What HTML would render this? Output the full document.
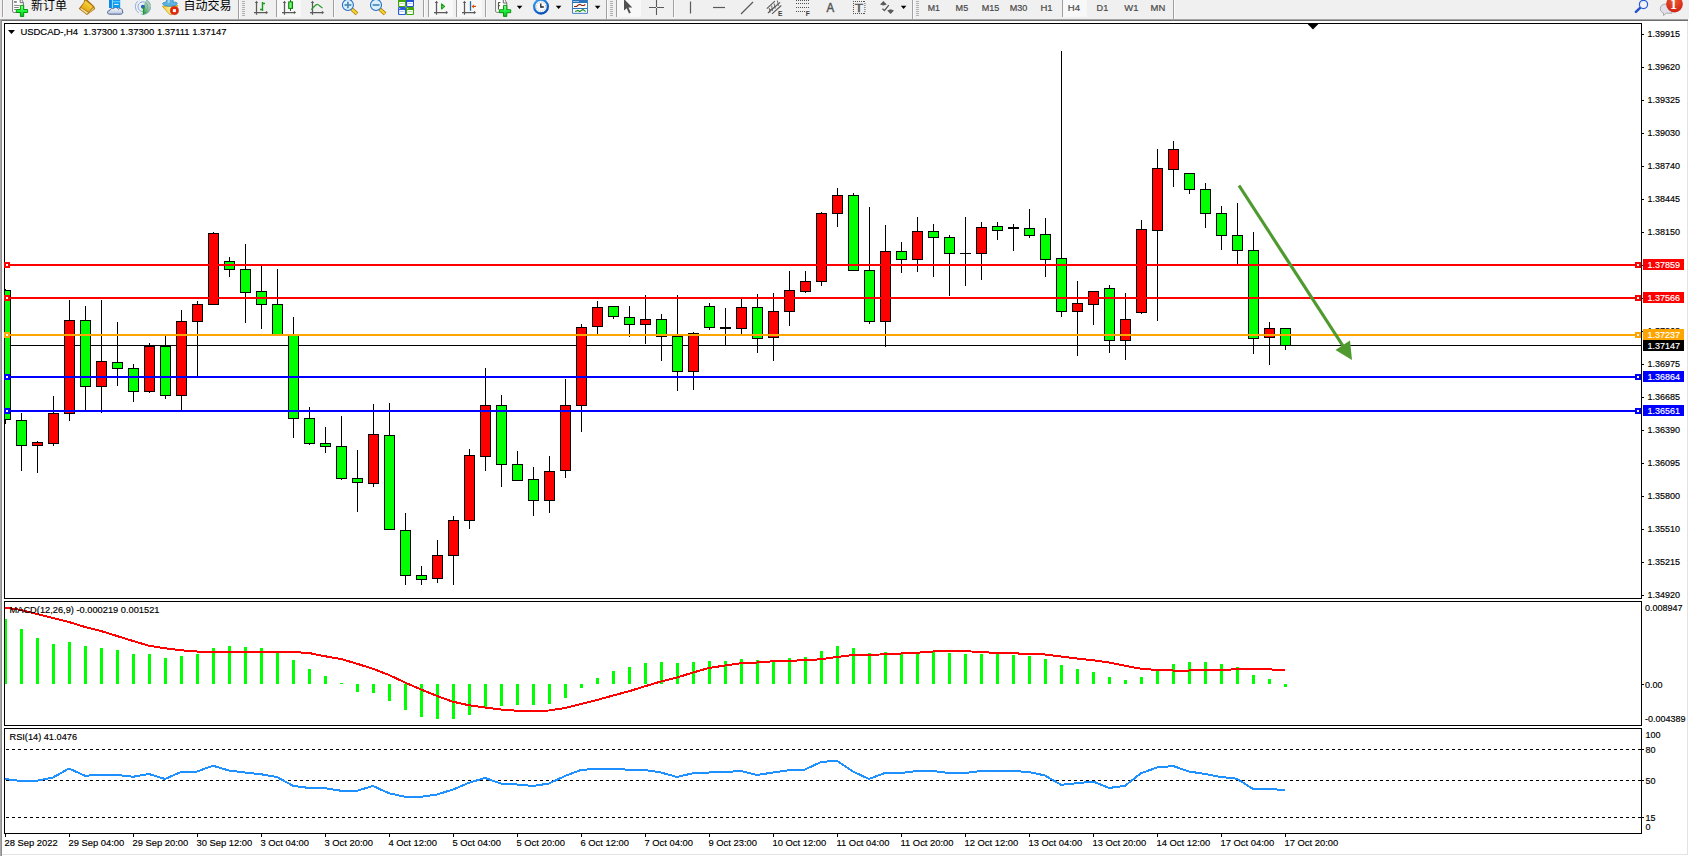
<!DOCTYPE html>
<html lang="zh"><head><meta charset="utf-8"><title>USDCAD-,H4</title>
<style>html,body{margin:0;padding:0;background:#fff;overflow:hidden}body{width:1689px;height:856px;position:relative}</style></head>
<body>
<svg width="1689" height="856" viewBox="0 0 1689 856" font-family="'Liberation Sans','Noto Sans CJK SC',sans-serif" font-size="9" style="position:absolute;left:0;top:0;display:block">
<style>text{stroke:#000;stroke-width:.16px}text.w{stroke:#fff}text.n{stroke:none}</style>
<defs><clipPath id="cm"><rect x="5" y="24" width="1636" height="574"/></clipPath><clipPath id="cd"><rect x="5" y="602" width="1636" height="123"/></clipPath><clipPath id="cr"><rect x="5" y="729" width="1636" height="104"/></clipPath><linearGradient id="gp" x1="0" y1="0" x2="0" y2="1"><stop offset="0" stop-color="#86ff92"/><stop offset="0.5" stop-color="#1cf53c"/><stop offset="1" stop-color="#00c014"/></linearGradient><linearGradient id="gb" x1="0" y1="0" x2="0" y2="1"><stop offset="0" stop-color="#8fc4f0"/><stop offset="1" stop-color="#2a6fc0"/></linearGradient><radialGradient id="gr" cx="0.5" cy="0.3" r="0.8"><stop offset="0" stop-color="#f05a30"/><stop offset="1" stop-color="#c81a10"/></radialGradient></defs>
<rect x="0" y="0" width="1689" height="856" fill="#ffffff"/>
<rect x="0" y="0" width="1689" height="19" fill="#f0f0f0"/>
<g shape-rendering="crispEdges">
<rect x="0" y="19" width="1688" height="1" fill="#a3a3a3"/>
<rect x="0" y="20" width="1688" height="1" fill="#6e6e6e"/>
<rect x="0" y="19" width="1" height="837" fill="#a8a8a8"/>
<rect x="1" y="20" width="1" height="836" fill="#8e8e8e"/>
<rect x="1687" y="21" width="1" height="834" fill="#e3e3e3"/>
<rect x="2" y="854" width="1686" height="1" fill="#e3e3e3"/>
<rect x="1688" y="0" width="1" height="856" fill="#f0f0f0"/>
<rect x="1688" y="19" width="1" height="837" fill="#ffffff"/>
<rect x="4" y="23" width="1638" height="1" fill="#000000"/>
<rect x="4" y="23" width="1" height="811" fill="#000000"/>
<rect x="1641" y="23" width="1" height="811" fill="#000000"/>
<rect x="4" y="598" width="1638" height="1" fill="#000000"/>
<rect x="4" y="601" width="1638" height="1" fill="#000000"/>
<rect x="4" y="725" width="1638" height="1" fill="#000000"/>
<rect x="4" y="728" width="1638" height="1" fill="#000000"/>
<rect x="4" y="833" width="1638" height="1" fill="#000000"/>
<rect x="2" y="599" width="1685" height="2" fill="#ffffff"/>
<rect x="2" y="726" width="1685" height="2" fill="#ffffff"/>
</g>
<g clip-path="url(#cm)" shape-rendering="crispEdges">
<rect x="5" y="345" width="1636" height="1" fill="#000000"/>
<rect x="5" y="289" width="1" height="135" fill="#000000"/>
<rect x="0" y="290" width="11" height="130" fill="#000000"/>
<rect x="1" y="291" width="9" height="128" fill="#00ff00"/>
<rect x="21" y="413" width="1" height="58" fill="#000000"/>
<rect x="16" y="420" width="11" height="26" fill="#000000"/>
<rect x="17" y="421" width="9" height="24" fill="#00ff00"/>
<rect x="37" y="441" width="1" height="32" fill="#000000"/>
<rect x="32" y="442" width="11" height="4" fill="#000000"/>
<rect x="33" y="443" width="9" height="2" fill="#ff0000"/>
<rect x="53" y="396" width="1" height="50" fill="#000000"/>
<rect x="48" y="413" width="11" height="31" fill="#000000"/>
<rect x="49" y="414" width="9" height="29" fill="#ff0000"/>
<rect x="69" y="300" width="1" height="121" fill="#000000"/>
<rect x="64" y="320" width="11" height="94" fill="#000000"/>
<rect x="65" y="321" width="9" height="92" fill="#ff0000"/>
<rect x="85" y="306" width="1" height="105" fill="#000000"/>
<rect x="80" y="320" width="11" height="67" fill="#000000"/>
<rect x="81" y="321" width="9" height="65" fill="#00ff00"/>
<rect x="101" y="300" width="1" height="113" fill="#000000"/>
<rect x="96" y="361" width="11" height="26" fill="#000000"/>
<rect x="97" y="362" width="9" height="24" fill="#ff0000"/>
<rect x="117" y="322" width="1" height="64" fill="#000000"/>
<rect x="112" y="362" width="11" height="7" fill="#000000"/>
<rect x="113" y="363" width="9" height="5" fill="#00ff00"/>
<rect x="133" y="364" width="1" height="38" fill="#000000"/>
<rect x="128" y="368" width="11" height="24" fill="#000000"/>
<rect x="129" y="369" width="9" height="22" fill="#00ff00"/>
<rect x="149" y="343" width="1" height="50" fill="#000000"/>
<rect x="144" y="346" width="11" height="46" fill="#000000"/>
<rect x="145" y="347" width="9" height="44" fill="#ff0000"/>
<rect x="165" y="336" width="1" height="63" fill="#000000"/>
<rect x="160" y="346" width="11" height="50" fill="#000000"/>
<rect x="161" y="347" width="9" height="48" fill="#00ff00"/>
<rect x="181" y="310" width="1" height="101" fill="#000000"/>
<rect x="176" y="321" width="11" height="75" fill="#000000"/>
<rect x="177" y="322" width="9" height="73" fill="#ff0000"/>
<rect x="197" y="301" width="1" height="76" fill="#000000"/>
<rect x="192" y="304" width="11" height="18" fill="#000000"/>
<rect x="193" y="305" width="9" height="16" fill="#ff0000"/>
<rect x="213" y="232" width="1" height="73" fill="#000000"/>
<rect x="208" y="233" width="11" height="72" fill="#000000"/>
<rect x="209" y="234" width="9" height="70" fill="#ff0000"/>
<rect x="229" y="257" width="1" height="20" fill="#000000"/>
<rect x="224" y="261" width="11" height="9" fill="#000000"/>
<rect x="225" y="262" width="9" height="7" fill="#00ff00"/>
<rect x="245" y="244" width="1" height="79" fill="#000000"/>
<rect x="240" y="269" width="11" height="24" fill="#000000"/>
<rect x="241" y="270" width="9" height="22" fill="#00ff00"/>
<rect x="261" y="266" width="1" height="63" fill="#000000"/>
<rect x="256" y="291" width="11" height="14" fill="#000000"/>
<rect x="257" y="292" width="9" height="12" fill="#00ff00"/>
<rect x="277" y="269" width="1" height="66" fill="#000000"/>
<rect x="272" y="304" width="11" height="31" fill="#000000"/>
<rect x="273" y="305" width="9" height="29" fill="#00ff00"/>
<rect x="293" y="317" width="1" height="121" fill="#000000"/>
<rect x="288" y="335" width="11" height="84" fill="#000000"/>
<rect x="289" y="336" width="9" height="82" fill="#00ff00"/>
<rect x="309" y="407" width="1" height="38" fill="#000000"/>
<rect x="304" y="418" width="11" height="26" fill="#000000"/>
<rect x="305" y="419" width="9" height="24" fill="#00ff00"/>
<rect x="325" y="427" width="1" height="26" fill="#000000"/>
<rect x="320" y="443" width="11" height="4" fill="#000000"/>
<rect x="321" y="444" width="9" height="2" fill="#00ff00"/>
<rect x="341" y="416" width="1" height="64" fill="#000000"/>
<rect x="336" y="446" width="11" height="33" fill="#000000"/>
<rect x="337" y="447" width="9" height="31" fill="#00ff00"/>
<rect x="357" y="450" width="1" height="62" fill="#000000"/>
<rect x="352" y="478" width="11" height="5" fill="#000000"/>
<rect x="353" y="479" width="9" height="3" fill="#00ff00"/>
<rect x="373" y="404" width="1" height="83" fill="#000000"/>
<rect x="368" y="434" width="11" height="50" fill="#000000"/>
<rect x="369" y="435" width="9" height="48" fill="#ff0000"/>
<rect x="389" y="403" width="1" height="127" fill="#000000"/>
<rect x="384" y="435" width="11" height="95" fill="#000000"/>
<rect x="385" y="436" width="9" height="93" fill="#00ff00"/>
<rect x="405" y="513" width="1" height="72" fill="#000000"/>
<rect x="400" y="530" width="11" height="46" fill="#000000"/>
<rect x="401" y="531" width="9" height="44" fill="#00ff00"/>
<rect x="421" y="566" width="1" height="19" fill="#000000"/>
<rect x="416" y="575" width="11" height="5" fill="#000000"/>
<rect x="417" y="576" width="9" height="3" fill="#00ff00"/>
<rect x="437" y="540" width="1" height="43" fill="#000000"/>
<rect x="432" y="555" width="11" height="24" fill="#000000"/>
<rect x="433" y="556" width="9" height="22" fill="#ff0000"/>
<rect x="453" y="516" width="1" height="69" fill="#000000"/>
<rect x="448" y="520" width="11" height="36" fill="#000000"/>
<rect x="449" y="521" width="9" height="34" fill="#ff0000"/>
<rect x="469" y="449" width="1" height="80" fill="#000000"/>
<rect x="464" y="455" width="11" height="66" fill="#000000"/>
<rect x="465" y="456" width="9" height="64" fill="#ff0000"/>
<rect x="485" y="368" width="1" height="103" fill="#000000"/>
<rect x="480" y="405" width="11" height="52" fill="#000000"/>
<rect x="481" y="406" width="9" height="50" fill="#ff0000"/>
<rect x="501" y="395" width="1" height="92" fill="#000000"/>
<rect x="496" y="405" width="11" height="60" fill="#000000"/>
<rect x="497" y="406" width="9" height="58" fill="#00ff00"/>
<rect x="517" y="451" width="1" height="30" fill="#000000"/>
<rect x="512" y="464" width="11" height="17" fill="#000000"/>
<rect x="513" y="465" width="9" height="15" fill="#00ff00"/>
<rect x="533" y="467" width="1" height="49" fill="#000000"/>
<rect x="528" y="479" width="11" height="22" fill="#000000"/>
<rect x="529" y="480" width="9" height="20" fill="#00ff00"/>
<rect x="549" y="456" width="1" height="57" fill="#000000"/>
<rect x="544" y="471" width="11" height="30" fill="#000000"/>
<rect x="545" y="472" width="9" height="28" fill="#ff0000"/>
<rect x="565" y="379" width="1" height="99" fill="#000000"/>
<rect x="560" y="405" width="11" height="66" fill="#000000"/>
<rect x="561" y="406" width="9" height="64" fill="#ff0000"/>
<rect x="581" y="324" width="1" height="108" fill="#000000"/>
<rect x="576" y="327" width="11" height="79" fill="#000000"/>
<rect x="577" y="328" width="9" height="77" fill="#ff0000"/>
<rect x="597" y="301" width="1" height="33" fill="#000000"/>
<rect x="592" y="307" width="11" height="20" fill="#000000"/>
<rect x="593" y="308" width="9" height="18" fill="#ff0000"/>
<rect x="613" y="306" width="1" height="13" fill="#000000"/>
<rect x="608" y="306" width="11" height="11" fill="#000000"/>
<rect x="609" y="307" width="9" height="9" fill="#00ff00"/>
<rect x="629" y="306" width="1" height="31" fill="#000000"/>
<rect x="624" y="317" width="11" height="8" fill="#000000"/>
<rect x="625" y="318" width="9" height="6" fill="#00ff00"/>
<rect x="645" y="295" width="1" height="49" fill="#000000"/>
<rect x="640" y="319" width="11" height="6" fill="#000000"/>
<rect x="641" y="320" width="9" height="4" fill="#ff0000"/>
<rect x="661" y="314" width="1" height="47" fill="#000000"/>
<rect x="656" y="319" width="11" height="18" fill="#000000"/>
<rect x="657" y="320" width="9" height="16" fill="#00ff00"/>
<rect x="677" y="295" width="1" height="96" fill="#000000"/>
<rect x="672" y="336" width="11" height="36" fill="#000000"/>
<rect x="673" y="337" width="9" height="34" fill="#00ff00"/>
<rect x="693" y="332" width="1" height="58" fill="#000000"/>
<rect x="688" y="333" width="11" height="39" fill="#000000"/>
<rect x="689" y="334" width="9" height="37" fill="#ff0000"/>
<rect x="709" y="303" width="1" height="27" fill="#000000"/>
<rect x="704" y="306" width="11" height="22" fill="#000000"/>
<rect x="705" y="307" width="9" height="20" fill="#00ff00"/>
<rect x="725" y="308" width="1" height="37" fill="#000000"/>
<rect x="720" y="327" width="11" height="2" fill="#000000"/>
<rect x="741" y="299" width="1" height="35" fill="#000000"/>
<rect x="736" y="307" width="11" height="22" fill="#000000"/>
<rect x="737" y="308" width="9" height="20" fill="#ff0000"/>
<rect x="757" y="294" width="1" height="59" fill="#000000"/>
<rect x="752" y="307" width="11" height="32" fill="#000000"/>
<rect x="753" y="308" width="9" height="30" fill="#00ff00"/>
<rect x="773" y="293" width="1" height="68" fill="#000000"/>
<rect x="768" y="311" width="11" height="27" fill="#000000"/>
<rect x="769" y="312" width="9" height="25" fill="#ff0000"/>
<rect x="789" y="271" width="1" height="55" fill="#000000"/>
<rect x="784" y="290" width="11" height="22" fill="#000000"/>
<rect x="785" y="291" width="9" height="20" fill="#ff0000"/>
<rect x="805" y="271" width="1" height="22" fill="#000000"/>
<rect x="800" y="281" width="11" height="11" fill="#000000"/>
<rect x="801" y="282" width="9" height="9" fill="#ff0000"/>
<rect x="821" y="212" width="1" height="74" fill="#000000"/>
<rect x="816" y="213" width="11" height="69" fill="#000000"/>
<rect x="817" y="214" width="9" height="67" fill="#ff0000"/>
<rect x="837" y="188" width="1" height="39" fill="#000000"/>
<rect x="832" y="195" width="11" height="19" fill="#000000"/>
<rect x="833" y="196" width="9" height="17" fill="#ff0000"/>
<rect x="853" y="193" width="1" height="78" fill="#000000"/>
<rect x="848" y="195" width="11" height="76" fill="#000000"/>
<rect x="849" y="196" width="9" height="74" fill="#00ff00"/>
<rect x="869" y="207" width="1" height="117" fill="#000000"/>
<rect x="864" y="270" width="11" height="52" fill="#000000"/>
<rect x="865" y="271" width="9" height="50" fill="#00ff00"/>
<rect x="885" y="225" width="1" height="122" fill="#000000"/>
<rect x="880" y="251" width="11" height="71" fill="#000000"/>
<rect x="881" y="252" width="9" height="69" fill="#ff0000"/>
<rect x="901" y="242" width="1" height="31" fill="#000000"/>
<rect x="896" y="251" width="11" height="9" fill="#000000"/>
<rect x="897" y="252" width="9" height="7" fill="#00ff00"/>
<rect x="917" y="217" width="1" height="55" fill="#000000"/>
<rect x="912" y="231" width="11" height="29" fill="#000000"/>
<rect x="913" y="232" width="9" height="27" fill="#ff0000"/>
<rect x="933" y="224" width="1" height="53" fill="#000000"/>
<rect x="928" y="231" width="11" height="7" fill="#000000"/>
<rect x="929" y="232" width="9" height="5" fill="#00ff00"/>
<rect x="949" y="235" width="1" height="61" fill="#000000"/>
<rect x="944" y="237" width="11" height="17" fill="#000000"/>
<rect x="945" y="238" width="9" height="15" fill="#00ff00"/>
<rect x="965" y="217" width="1" height="69" fill="#000000"/>
<rect x="960" y="253" width="11" height="1" fill="#000000"/>
<rect x="981" y="222" width="1" height="58" fill="#000000"/>
<rect x="976" y="227" width="11" height="27" fill="#000000"/>
<rect x="977" y="228" width="9" height="25" fill="#ff0000"/>
<rect x="997" y="222" width="1" height="18" fill="#000000"/>
<rect x="992" y="226" width="11" height="5" fill="#000000"/>
<rect x="993" y="227" width="9" height="3" fill="#00ff00"/>
<rect x="1013" y="224" width="1" height="27" fill="#000000"/>
<rect x="1008" y="227" width="11" height="2" fill="#000000"/>
<rect x="1029" y="209" width="1" height="29" fill="#000000"/>
<rect x="1024" y="228" width="11" height="8" fill="#000000"/>
<rect x="1025" y="229" width="9" height="6" fill="#00ff00"/>
<rect x="1045" y="218" width="1" height="59" fill="#000000"/>
<rect x="1040" y="234" width="11" height="26" fill="#000000"/>
<rect x="1041" y="235" width="9" height="24" fill="#00ff00"/>
<rect x="1061" y="51" width="1" height="266" fill="#000000"/>
<rect x="1056" y="258" width="11" height="54" fill="#000000"/>
<rect x="1057" y="259" width="9" height="52" fill="#00ff00"/>
<rect x="1077" y="281" width="1" height="75" fill="#000000"/>
<rect x="1072" y="303" width="11" height="9" fill="#000000"/>
<rect x="1073" y="304" width="9" height="7" fill="#ff0000"/>
<rect x="1093" y="291" width="1" height="34" fill="#000000"/>
<rect x="1088" y="291" width="11" height="14" fill="#000000"/>
<rect x="1089" y="292" width="9" height="12" fill="#ff0000"/>
<rect x="1109" y="285" width="1" height="68" fill="#000000"/>
<rect x="1104" y="288" width="11" height="53" fill="#000000"/>
<rect x="1105" y="289" width="9" height="51" fill="#00ff00"/>
<rect x="1125" y="293" width="1" height="67" fill="#000000"/>
<rect x="1120" y="319" width="11" height="22" fill="#000000"/>
<rect x="1121" y="320" width="9" height="20" fill="#ff0000"/>
<rect x="1141" y="220" width="1" height="94" fill="#000000"/>
<rect x="1136" y="229" width="11" height="84" fill="#000000"/>
<rect x="1137" y="230" width="9" height="82" fill="#ff0000"/>
<rect x="1157" y="149" width="1" height="172" fill="#000000"/>
<rect x="1152" y="168" width="11" height="63" fill="#000000"/>
<rect x="1153" y="169" width="9" height="61" fill="#ff0000"/>
<rect x="1173" y="141" width="1" height="46" fill="#000000"/>
<rect x="1168" y="149" width="11" height="21" fill="#000000"/>
<rect x="1169" y="150" width="9" height="19" fill="#ff0000"/>
<rect x="1189" y="173" width="1" height="21" fill="#000000"/>
<rect x="1184" y="173" width="11" height="17" fill="#000000"/>
<rect x="1185" y="174" width="9" height="15" fill="#00ff00"/>
<rect x="1205" y="183" width="1" height="45" fill="#000000"/>
<rect x="1200" y="189" width="11" height="25" fill="#000000"/>
<rect x="1201" y="190" width="9" height="23" fill="#00ff00"/>
<rect x="1221" y="206" width="1" height="44" fill="#000000"/>
<rect x="1216" y="213" width="11" height="23" fill="#000000"/>
<rect x="1217" y="214" width="9" height="21" fill="#00ff00"/>
<rect x="1237" y="203" width="1" height="61" fill="#000000"/>
<rect x="1232" y="235" width="11" height="16" fill="#000000"/>
<rect x="1233" y="236" width="9" height="14" fill="#00ff00"/>
<rect x="1253" y="232" width="1" height="122" fill="#000000"/>
<rect x="1248" y="250" width="11" height="89" fill="#000000"/>
<rect x="1249" y="251" width="9" height="87" fill="#00ff00"/>
<rect x="1269" y="322" width="1" height="43" fill="#000000"/>
<rect x="1264" y="328" width="11" height="10" fill="#000000"/>
<rect x="1265" y="329" width="9" height="8" fill="#ff0000"/>
<rect x="1285" y="328" width="1" height="22" fill="#000000"/>
<rect x="1280" y="328" width="11" height="18" fill="#000000"/>
<rect x="1281" y="329" width="9" height="16" fill="#00ff00"/>
<rect x="5" y="264" width="1636" height="2" fill="#ff0000"/>
<rect x="5" y="297" width="1636" height="2" fill="#ff0000"/>
<rect x="5" y="334" width="1636" height="2" fill="#ffa500"/>
<rect x="5" y="376" width="1636" height="2" fill="#0000ff"/>
<rect x="5" y="410" width="1636" height="2" fill="#0000ff"/>
</g>
<g shape-rendering="crispEdges">
<rect x="4" y="262" width="6" height="6" fill="#ff0000"/>
<rect x="6" y="264" width="2" height="2" fill="#ffffff"/>
<rect x="1635" y="262" width="6" height="6" fill="#ff0000"/>
<rect x="1637" y="264" width="2" height="2" fill="#ffffff"/>
<rect x="4" y="295" width="6" height="6" fill="#ff0000"/>
<rect x="6" y="297" width="2" height="2" fill="#ffffff"/>
<rect x="1635" y="295" width="6" height="6" fill="#ff0000"/>
<rect x="1637" y="297" width="2" height="2" fill="#ffffff"/>
<rect x="4" y="332" width="6" height="6" fill="#ffa500"/>
<rect x="6" y="334" width="2" height="2" fill="#ffffff"/>
<rect x="1635" y="332" width="6" height="6" fill="#ffa500"/>
<rect x="1637" y="334" width="2" height="2" fill="#ffffff"/>
<rect x="4" y="374" width="6" height="6" fill="#0000ff"/>
<rect x="6" y="376" width="2" height="2" fill="#ffffff"/>
<rect x="1635" y="374" width="6" height="6" fill="#0000ff"/>
<rect x="1637" y="376" width="2" height="2" fill="#ffffff"/>
<rect x="4" y="408" width="6" height="6" fill="#0000ff"/>
<rect x="6" y="410" width="2" height="2" fill="#ffffff"/>
<rect x="1635" y="408" width="6" height="6" fill="#0000ff"/>
<rect x="1637" y="410" width="2" height="2" fill="#ffffff"/>
</g>
<line x1="1239" y1="185.5" x2="1344" y2="347.5" stroke="#4f9a2f" stroke-width="3.2"/>
<polygon points="1352,360 1335.5,350 1350,340.5" fill="#4f9a2f"/>
<polygon points="1307.6,24 1318.4,24 1313,29.4" fill="#000"/>
<polygon points="8,30 15,30 11.5,34" fill="#000"/>
<text x="20.4" y="35" font-size="9.4" textLength="206" lengthAdjust="spacingAndGlyphs" style="white-space:pre">USDCAD-,H4  1.37300 1.37300 1.37111 1.37147</text>
<g shape-rendering="crispEdges">
<rect x="1642" y="34" width="2" height="1" fill="#000000"/>
<rect x="1642" y="67" width="2" height="1" fill="#000000"/>
<rect x="1642" y="100" width="2" height="1" fill="#000000"/>
<rect x="1642" y="133" width="2" height="1" fill="#000000"/>
<rect x="1642" y="166" width="2" height="1" fill="#000000"/>
<rect x="1642" y="199" width="2" height="1" fill="#000000"/>
<rect x="1642" y="232" width="2" height="1" fill="#000000"/>
<rect x="1642" y="265" width="2" height="1" fill="#000000"/>
<rect x="1642" y="298" width="2" height="1" fill="#000000"/>
<rect x="1642" y="331" width="2" height="1" fill="#000000"/>
<rect x="1642" y="364" width="2" height="1" fill="#000000"/>
<rect x="1642" y="397" width="2" height="1" fill="#000000"/>
<rect x="1642" y="430" width="2" height="1" fill="#000000"/>
<rect x="1642" y="463" width="2" height="1" fill="#000000"/>
<rect x="1642" y="496" width="2" height="1" fill="#000000"/>
<rect x="1642" y="529" width="2" height="1" fill="#000000"/>
<rect x="1642" y="562" width="2" height="1" fill="#000000"/>
<rect x="1642" y="595" width="2" height="1" fill="#000000"/>
</g>
<text x="1647.5" y="36.8" textLength="32.5" lengthAdjust="spacingAndGlyphs">1.39915</text>
<text x="1647.5" y="69.8" textLength="32.5" lengthAdjust="spacingAndGlyphs">1.39620</text>
<text x="1647.5" y="102.8" textLength="32.5" lengthAdjust="spacingAndGlyphs">1.39325</text>
<text x="1647.5" y="135.8" textLength="32.5" lengthAdjust="spacingAndGlyphs">1.39030</text>
<text x="1647.5" y="168.8" textLength="32.5" lengthAdjust="spacingAndGlyphs">1.38740</text>
<text x="1647.5" y="201.8" textLength="32.5" lengthAdjust="spacingAndGlyphs">1.38445</text>
<text x="1647.5" y="234.8" textLength="32.5" lengthAdjust="spacingAndGlyphs">1.38150</text>
<text x="1647.5" y="267.8" textLength="32.5" lengthAdjust="spacingAndGlyphs">1.37859</text>
<text x="1647.5" y="300.8" textLength="32.5" lengthAdjust="spacingAndGlyphs">1.37566</text>
<text x="1647.5" y="333.8" textLength="32.5" lengthAdjust="spacingAndGlyphs">1.37262</text>
<text x="1647.5" y="366.8" textLength="32.5" lengthAdjust="spacingAndGlyphs">1.36975</text>
<text x="1647.5" y="399.8" textLength="32.5" lengthAdjust="spacingAndGlyphs">1.36685</text>
<text x="1647.5" y="432.8" textLength="32.5" lengthAdjust="spacingAndGlyphs">1.36390</text>
<text x="1647.5" y="465.8" textLength="32.5" lengthAdjust="spacingAndGlyphs">1.36095</text>
<text x="1647.5" y="498.8" textLength="32.5" lengthAdjust="spacingAndGlyphs">1.35800</text>
<text x="1647.5" y="531.8" textLength="32.5" lengthAdjust="spacingAndGlyphs">1.35510</text>
<text x="1647.5" y="564.8" textLength="32.5" lengthAdjust="spacingAndGlyphs">1.35215</text>
<text x="1647.5" y="597.8" textLength="32.5" lengthAdjust="spacingAndGlyphs">1.34920</text>
<g shape-rendering="crispEdges">
<rect x="1643" y="259" width="41" height="11" fill="#ff0000"/>
<rect x="1643" y="292" width="41" height="11" fill="#ff0000"/>
<rect x="1643" y="329" width="41" height="11" fill="#ffa500"/>
<rect x="1643" y="371" width="41" height="11" fill="#0000ff"/>
<rect x="1643" y="405" width="41" height="11" fill="#0000ff"/>
<rect x="1643" y="340" width="41" height="11" fill="#000000"/>
</g>
<text x="1647.5" y="268" fill="#fff" class="w" textLength="32.5" lengthAdjust="spacingAndGlyphs">1.37859</text>
<text x="1647.5" y="301" fill="#fff" class="w" textLength="32.5" lengthAdjust="spacingAndGlyphs">1.37566</text>
<text x="1647.5" y="338" fill="#fff" class="w" textLength="32.5" lengthAdjust="spacingAndGlyphs">1.37237</text>
<text x="1647.5" y="380" fill="#fff" class="w" textLength="32.5" lengthAdjust="spacingAndGlyphs">1.36864</text>
<text x="1647.5" y="414" fill="#fff" class="w" textLength="32.5" lengthAdjust="spacingAndGlyphs">1.36561</text>
<text x="1647.5" y="349" fill="#fff" class="w" textLength="32.5" lengthAdjust="spacingAndGlyphs">1.37147</text>
<g clip-path="url(#cd)" shape-rendering="crispEdges">
<rect x="4" y="619" width="3" height="65" fill="#00ff00"/>
<rect x="20" y="629" width="3" height="55" fill="#00ff00"/>
<rect x="36" y="638" width="3" height="46" fill="#00ff00"/>
<rect x="52" y="644" width="3" height="40" fill="#00ff00"/>
<rect x="68" y="642" width="3" height="42" fill="#00ff00"/>
<rect x="84" y="646" width="3" height="38" fill="#00ff00"/>
<rect x="100" y="648" width="3" height="36" fill="#00ff00"/>
<rect x="116" y="650" width="3" height="34" fill="#00ff00"/>
<rect x="132" y="654" width="3" height="30" fill="#00ff00"/>
<rect x="148" y="654" width="3" height="30" fill="#00ff00"/>
<rect x="164" y="658" width="3" height="26" fill="#00ff00"/>
<rect x="180" y="656" width="3" height="28" fill="#00ff00"/>
<rect x="196" y="654" width="3" height="30" fill="#00ff00"/>
<rect x="212" y="648" width="3" height="36" fill="#00ff00"/>
<rect x="228" y="646" width="3" height="38" fill="#00ff00"/>
<rect x="244" y="647" width="3" height="37" fill="#00ff00"/>
<rect x="260" y="648" width="3" height="36" fill="#00ff00"/>
<rect x="276" y="653" width="3" height="31" fill="#00ff00"/>
<rect x="292" y="660" width="3" height="24" fill="#00ff00"/>
<rect x="308" y="669" width="3" height="15" fill="#00ff00"/>
<rect x="324" y="676" width="3" height="8" fill="#00ff00"/>
<rect x="340" y="683" width="3" height="1" fill="#00ff00"/>
<rect x="356" y="684" width="3" height="8" fill="#00ff00"/>
<rect x="372" y="684" width="3" height="9" fill="#00ff00"/>
<rect x="388" y="684" width="3" height="17" fill="#00ff00"/>
<rect x="404" y="684" width="3" height="26" fill="#00ff00"/>
<rect x="420" y="684" width="3" height="33" fill="#00ff00"/>
<rect x="436" y="684" width="3" height="35" fill="#00ff00"/>
<rect x="452" y="684" width="3" height="35" fill="#00ff00"/>
<rect x="468" y="684" width="3" height="31" fill="#00ff00"/>
<rect x="484" y="684" width="3" height="23" fill="#00ff00"/>
<rect x="500" y="684" width="3" height="22" fill="#00ff00"/>
<rect x="516" y="684" width="3" height="21" fill="#00ff00"/>
<rect x="532" y="684" width="3" height="21" fill="#00ff00"/>
<rect x="548" y="684" width="3" height="20" fill="#00ff00"/>
<rect x="564" y="684" width="3" height="14" fill="#00ff00"/>
<rect x="580" y="684" width="3" height="4" fill="#00ff00"/>
<rect x="596" y="678" width="3" height="6" fill="#00ff00"/>
<rect x="612" y="671" width="3" height="13" fill="#00ff00"/>
<rect x="628" y="667" width="3" height="17" fill="#00ff00"/>
<rect x="644" y="663" width="3" height="21" fill="#00ff00"/>
<rect x="660" y="662" width="3" height="22" fill="#00ff00"/>
<rect x="676" y="663" width="3" height="21" fill="#00ff00"/>
<rect x="692" y="662" width="3" height="22" fill="#00ff00"/>
<rect x="708" y="661" width="3" height="23" fill="#00ff00"/>
<rect x="724" y="661" width="3" height="23" fill="#00ff00"/>
<rect x="740" y="659" width="3" height="25" fill="#00ff00"/>
<rect x="756" y="660" width="3" height="24" fill="#00ff00"/>
<rect x="772" y="660" width="3" height="24" fill="#00ff00"/>
<rect x="788" y="658" width="3" height="26" fill="#00ff00"/>
<rect x="804" y="657" width="3" height="27" fill="#00ff00"/>
<rect x="820" y="651" width="3" height="33" fill="#00ff00"/>
<rect x="836" y="646" width="3" height="38" fill="#00ff00"/>
<rect x="852" y="648" width="3" height="36" fill="#00ff00"/>
<rect x="868" y="653" width="3" height="31" fill="#00ff00"/>
<rect x="884" y="652" width="3" height="32" fill="#00ff00"/>
<rect x="900" y="654" width="3" height="30" fill="#00ff00"/>
<rect x="916" y="653" width="3" height="31" fill="#00ff00"/>
<rect x="932" y="652" width="3" height="32" fill="#00ff00"/>
<rect x="948" y="653" width="3" height="31" fill="#00ff00"/>
<rect x="964" y="654" width="3" height="30" fill="#00ff00"/>
<rect x="980" y="654" width="3" height="30" fill="#00ff00"/>
<rect x="996" y="653" width="3" height="31" fill="#00ff00"/>
<rect x="1012" y="655" width="3" height="29" fill="#00ff00"/>
<rect x="1028" y="656" width="3" height="28" fill="#00ff00"/>
<rect x="1044" y="659" width="3" height="25" fill="#00ff00"/>
<rect x="1060" y="665" width="3" height="19" fill="#00ff00"/>
<rect x="1076" y="669" width="3" height="15" fill="#00ff00"/>
<rect x="1092" y="672" width="3" height="12" fill="#00ff00"/>
<rect x="1108" y="677" width="3" height="7" fill="#00ff00"/>
<rect x="1124" y="680" width="3" height="4" fill="#00ff00"/>
<rect x="1140" y="677" width="3" height="7" fill="#00ff00"/>
<rect x="1156" y="670" width="3" height="14" fill="#00ff00"/>
<rect x="1172" y="664" width="3" height="20" fill="#00ff00"/>
<rect x="1188" y="662" width="3" height="22" fill="#00ff00"/>
<rect x="1204" y="662" width="3" height="22" fill="#00ff00"/>
<rect x="1220" y="664" width="3" height="20" fill="#00ff00"/>
<rect x="1236" y="667" width="3" height="17" fill="#00ff00"/>
<rect x="1252" y="675" width="3" height="9" fill="#00ff00"/>
<rect x="1268" y="679" width="3" height="5" fill="#00ff00"/>
<rect x="1284" y="684" width="3" height="3" fill="#00ff00"/>
<polyline points="5,607.5 21,610 37,614 53,618 69,622 85,627 101,631 117,636 133,641 149,645.75 165,648.25 181,650.25 197,651.5 213,652 229,652 245,652 261,652 277,652 293,652 309,653 325,656.25 341,659 357,663.75 373,668.75 389,675 405,682.5 421,689.5 437,696 453,701.75 469,705.25 485,707.5 501,709.5 517,710.75 533,710.75 549,710.5 565,708 581,704 597,700 613,695.5 629,691.25 645,686.25 661,681.5 677,677.5 693,672.5 709,668 725,665.5 741,663.25 757,662.5 773,661.25 789,660.75 805,660.25 821,659.25 837,657 853,655 869,655 885,654.25 901,653.5 917,652.75 933,651.5 949,650.75 965,651 981,652.25 997,652.75 1013,653.25 1029,654 1045,654.5 1061,656.5 1077,658.5 1093,660.25 1109,662.5 1125,665.75 1141,668.75 1157,670 1173,670.5 1189,670.5 1205,670.25 1221,670 1237,669.2 1253,669.2 1269,669.4 1285,670" fill="none" stroke="#ff0000" stroke-width="2" stroke-linejoin="round"/>
</g>
<text x="9.5" y="612.5" textLength="150" lengthAdjust="spacingAndGlyphs">MACD(12,26,9) -0.000219 0.001521</text>
<g shape-rendering="crispEdges">
<rect x="1642" y="684" width="2" height="1" fill="#000000"/>
</g>
<text x="1645" y="611">0.008947</text>
<text x="1645" y="688">0.00</text>
<text x="1645" y="722">-0.004389</text>
<g clip-path="url(#cr)" shape-rendering="crispEdges">
<line x1="6" y1="749.5" x2="1641" y2="749.5" stroke="#000000" stroke-width="1" stroke-dasharray="3 3"/>
<line x1="6" y1="780.5" x2="1641" y2="780.5" stroke="#000000" stroke-width="1" stroke-dasharray="3 3"/>
<line x1="6" y1="817.5" x2="1641" y2="817.5" stroke="#000000" stroke-width="1" stroke-dasharray="3 3"/>
<polyline points="5,779 21,781 37,780.75 53,777.5 69,768.5 85,775.75 101,774.75 117,775 133,776.75 149,774 165,779 181,772 197,771.5 213,765.75 229,770.5 245,772.5 261,774.25 277,777 293,785.75 309,788 325,788.25 341,790.75 357,790.75 373,786 389,793.25 405,796.75 421,796.75 437,794.5 453,789.5 469,782.75 485,778 501,783.5 517,784.5 533,786 549,783.5 565,776 581,770 597,768.75 613,768.75 629,769.75 645,770 661,772.5 677,777 693,773.25 709,772.5 725,772 741,771 757,775 773,772.5 789,770.25 805,769.5 821,762 837,760.75 853,771.5 869,779 885,773 901,773 917,771 933,771 949,773 965,773 981,771 997,770.75 1013,771 1029,772 1045,775.5 1061,784.75 1077,783.25 1093,781.5 1109,788 1125,785.75 1141,773.25 1157,767.5 1173,766 1189,771.5 1205,774 1221,777 1237,778.75 1253,789 1269,789 1285,790" fill="none" stroke="#1e90ff" stroke-width="2" stroke-linejoin="round"/>
</g>
<text x="9.5" y="740" textLength="67.5" lengthAdjust="spacingAndGlyphs">RSI(14) 41.0476</text>
<g shape-rendering="crispEdges">
<rect x="1642" y="749" width="2" height="1" fill="#000000"/>
<rect x="1642" y="780" width="2" height="1" fill="#000000"/>
<rect x="1642" y="817" width="2" height="1" fill="#000000"/>
</g>
<text x="1645.5" y="737.5">100</text>
<text x="1645.5" y="752.5">80</text>
<text x="1645.5" y="784">50</text>
<text x="1645.5" y="821">15</text>
<text x="1645.5" y="829.5">0</text>
<g shape-rendering="crispEdges">
<rect x="5" y="834" width="1" height="3" fill="#000000"/>
<rect x="69" y="834" width="1" height="3" fill="#000000"/>
<rect x="133" y="834" width="1" height="3" fill="#000000"/>
<rect x="197" y="834" width="1" height="3" fill="#000000"/>
<rect x="261" y="834" width="1" height="3" fill="#000000"/>
<rect x="325" y="834" width="1" height="3" fill="#000000"/>
<rect x="389" y="834" width="1" height="3" fill="#000000"/>
<rect x="453" y="834" width="1" height="3" fill="#000000"/>
<rect x="517" y="834" width="1" height="3" fill="#000000"/>
<rect x="581" y="834" width="1" height="3" fill="#000000"/>
<rect x="645" y="834" width="1" height="3" fill="#000000"/>
<rect x="709" y="834" width="1" height="3" fill="#000000"/>
<rect x="773" y="834" width="1" height="3" fill="#000000"/>
<rect x="837" y="834" width="1" height="3" fill="#000000"/>
<rect x="901" y="834" width="1" height="3" fill="#000000"/>
<rect x="965" y="834" width="1" height="3" fill="#000000"/>
<rect x="1029" y="834" width="1" height="3" fill="#000000"/>
<rect x="1093" y="834" width="1" height="3" fill="#000000"/>
<rect x="1157" y="834" width="1" height="3" fill="#000000"/>
<rect x="1221" y="834" width="1" height="3" fill="#000000"/>
<rect x="1285" y="834" width="1" height="3" fill="#000000"/>
</g>
<text x="4.5" y="846" font-size="9.4">28 Sep 2022</text>
<text x="68.5" y="846" font-size="9.4">29 Sep 04:00</text>
<text x="132.5" y="846" font-size="9.4">29 Sep 20:00</text>
<text x="196.5" y="846" font-size="9.4">30 Sep 12:00</text>
<text x="260.5" y="846" font-size="9.4">3 Oct 04:00</text>
<text x="324.5" y="846" font-size="9.4">3 Oct 20:00</text>
<text x="388.5" y="846" font-size="9.4">4 Oct 12:00</text>
<text x="452.5" y="846" font-size="9.4">5 Oct 04:00</text>
<text x="516.5" y="846" font-size="9.4">5 Oct 20:00</text>
<text x="580.5" y="846" font-size="9.4">6 Oct 12:00</text>
<text x="644.5" y="846" font-size="9.4">7 Oct 04:00</text>
<text x="708.5" y="846" font-size="9.4">9 Oct 23:00</text>
<text x="772.5" y="846" font-size="9.4">10 Oct 12:00</text>
<text x="836.5" y="846" font-size="9.4">11 Oct 04:00</text>
<text x="900.5" y="846" font-size="9.4">11 Oct 20:00</text>
<text x="964.5" y="846" font-size="9.4">12 Oct 12:00</text>
<text x="1028.5" y="846" font-size="9.4">13 Oct 04:00</text>
<text x="1092.5" y="846" font-size="9.4">13 Oct 20:00</text>
<text x="1156.5" y="846" font-size="9.4">14 Oct 12:00</text>
<text x="1220.5" y="846" font-size="9.4">17 Oct 04:00</text>
<text x="1284.5" y="846" font-size="9.4">17 Oct 20:00</text>
<g id="toolbar">
<rect x="2" y="0" width="1" height="17" fill="#a0a0a0" shape-rendering="crispEdges"/>
<rect x="3" y="0" width="1" height="17" fill="#fafafa" shape-rendering="crispEdges"/>
<path d="M12.6,-3 H20.2 L23.4,2.7 V12.4 H13.8 Q12.6,12.4 12.6,11.2 Z" fill="#fff" stroke="#7a7a7a" stroke-width="1"/>
<path d="M20.2,-3 V2.7 H23.4" fill="none" stroke="#6a6a6a" stroke-width="1"/>
<rect x="14.1" y="1.2" width="2.7" height="1.5" fill="#666"/>
<path d="M14.1,5.4 H19.8 M14.1,7.5 H18.8 M14.1,9.5 H16" stroke="#777" stroke-width="0.9"/>
<path d="M20.4,5.4 H23.7 V9.5 H27.6 V12.5 H23.7 V16.5 H20.4 V12.5 H16.3 V9.5 H20.4 Z" fill="url(#gp)" stroke="#008c00" stroke-width="0.9"/>
<text class="n" x="31" y="9.5" font-size="12">新订单</text>
<path d="M84.7,-1.5 L86,-1.5 L94.2,6.3 L95.2,9 L87,15 L78.7,8.8 L83.6,2.5 Z" fill="#ab7110"/>
<linearGradient id="gg" x1="1" y1="0" x2="0.2" y2="1"><stop offset="0" stop-color="#fff8a8"/><stop offset="0.45" stop-color="#f2c62c"/><stop offset="1" stop-color="#dc9f14"/></linearGradient>
<path d="M85.4,0.6 L93,6.7 L88.6,11.8 L81.2,7.4 Z" fill="url(#gg)"/>
<path d="M80,8.7 L81.2,7.9 L88.2,12.4 L86.9,13.9 Z" fill="#f5dc92"/>
<path d="M93.4,7.4 L94.3,9 L88,13.7 L89.2,12.3 Z" fill="#dcc678"/>
<path d="M109,-2 H120.2 V8 H109 Z" fill="#0d9cf4"/>
<path d="M109,-2 H112 V8 H109 Z" fill="#0a8ae8"/>
<path d="M112.4,-2 V8" stroke="#d8f0ff" stroke-width="0.8"/>
<path d="M112.9,1.3 H120.2 V2.2 H112.9 Z" fill="#7fd4ff"/>
<path d="M114.2,3.9 H118.6 V4.9 H114.2 Z" fill="#f4fbff"/>
<linearGradient id="gc" x1="0" y1="0" x2="0" y2="1"><stop offset="0" stop-color="#ffffff"/><stop offset="1" stop-color="#b4c2da"/></linearGradient>
<path d="M109.6,14.2 C106.9,14.2 106.6,10.7 109.9,10.3 C110.1,8.5 112.5,8.2 113.4,8.8 C114.4,7 117.3,7 118.3,9.3 C119.6,7.8 122.7,8.5 122.4,11 C123.4,12.3 122.7,14.2 120.4,14.2 Z" fill="url(#gc)" stroke="#43598c" stroke-width="0.9"/>
<circle cx="142.9" cy="6.7" r="7.6" fill="#eef3f2"/>
<linearGradient id="gs" x1="1" y1="0" x2="0.3" y2="1"><stop offset="0" stop-color="#d4e6cf"/><stop offset="0.6" stop-color="#8ec68a"/><stop offset="1" stop-color="#2aa42a"/></linearGradient>
<path d="M142.9,6.7 L143.3,14.6 A7.9,7.9 0 0 0 146.5,-0.4 Z" fill="url(#gs)"/>
<circle cx="142.9" cy="6.7" r="7.6" fill="none" stroke="#7f9fe2" stroke-width="1" stroke-dasharray="14 2" opacity="0.85"/>
<circle cx="142.9" cy="6.7" r="4.9" fill="none" stroke="#7795dc" stroke-width="1" opacity="0.85"/>
<circle cx="142.9" cy="6.7" r="2" fill="#2d5fd2"/>
<path d="M143.5,7 V14.6" stroke="#18a018" stroke-width="1.3"/>
<linearGradient id="gy" x1="0" y1="0" x2="1" y2="0"><stop offset="0" stop-color="#f2c830"/><stop offset="0.55" stop-color="#fff08c"/><stop offset="1" stop-color="#f4cc38"/></linearGradient>
<path d="M162.4,6.3 L177.8,5.6 L171.8,14.6 L169.8,14.6 Z" fill="url(#gy)" stroke="#c8980e" stroke-width="0.8"/>
<path d="M167,-2 L172.6,-2 L173.4,2.2 C179,1.6 179.2,5.6 170,6.3 C160.8,5.9 161,2 166.2,2.2 Z" fill="#5fb2e0" stroke="#2f8cc0" stroke-width="0.8"/>
<path d="M168,-1 L170,-1 L169.6,3 L167.6,3 Z" fill="#9fd6f2"/>
<circle cx="174.4" cy="10.6" r="4.1" fill="#e22608" stroke="#b81c08" stroke-width="0.5"/>
<rect x="172.9" y="9.1" width="3" height="3" fill="#fff"/>
<text class="n" x="183.5" y="9.5" font-size="12">自动交易</text>
<rect x="238" y="0" width="1" height="19" fill="#a0a0a0" shape-rendering="crispEdges"/>
<rect x="239" y="0" width="1" height="19" fill="#fafafa" shape-rendering="crispEdges"/>
<rect x="242" y="1" width="3" height="1" fill="#b0b0b0" shape-rendering="crispEdges"/>
<rect x="242" y="3" width="3" height="1" fill="#b0b0b0" shape-rendering="crispEdges"/>
<rect x="242" y="5" width="3" height="1" fill="#b0b0b0" shape-rendering="crispEdges"/>
<rect x="242" y="7" width="3" height="1" fill="#b0b0b0" shape-rendering="crispEdges"/>
<rect x="242" y="9" width="3" height="1" fill="#b0b0b0" shape-rendering="crispEdges"/>
<rect x="242" y="11" width="3" height="1" fill="#b0b0b0" shape-rendering="crispEdges"/>
<rect x="242" y="13" width="3" height="1" fill="#b0b0b0" shape-rendering="crispEdges"/>
<rect x="242" y="15" width="3" height="1" fill="#b0b0b0" shape-rendering="crispEdges"/>
<path d="M256.5,2 V14.8 M254,12.5 H266.5" fill="none" stroke="#5a5a5a" stroke-width="1.25"/>
<path d="M256.5,0.7 L258.2,3 H254.8 Z M268.1,12.5 L265.9,10.8 V14.2 Z" fill="#5a5a5a"/>
<path d="M262.5,2 V11 M262.5,3.5 H265 M260,9.5 H262.5" fill="none" stroke="#1a9a1a" stroke-width="1.4"/>
<rect x="276" y="0" width="1" height="17" fill="#a0a0a0" shape-rendering="crispEdges"/>
<rect x="277" y="0" width="1" height="17" fill="#fafafa" shape-rendering="crispEdges"/>
<rect x="277" y="0" width="24" height="17" fill="#f8f8f8"/>
<path d="M284.5,2 V14.8 M282,12.5 H294.5" fill="none" stroke="#5a5a5a" stroke-width="1.25"/>
<path d="M284.5,0.7 L286.2,3 H282.8 Z M296.1,12.5 L293.9,10.8 V14.2 Z" fill="#5a5a5a"/>
<path d="M290.5,0 V11" stroke="#0a7a0a" stroke-width="1"/>
<linearGradient id="gcn" x1="0" y1="0" x2="1" y2="0"><stop offset="0" stop-color="#3ce03c"/><stop offset="0.4" stop-color="#8cff8c"/><stop offset="1" stop-color="#22cc22"/></linearGradient>
<rect x="288.7" y="1.9" width="3.8" height="6.5" fill="url(#gcn)" stroke="#0a820a" stroke-width="1"/>
<path d="M312.5,2 V14.8 M310,12.5 H322.5" fill="none" stroke="#5a5a5a" stroke-width="1.25"/>
<path d="M312.5,0.7 L314.2,3 H310.8 Z M324.1,12.5 L321.9,10.8 V14.2 Z" fill="#5a5a5a"/>
<path d="M311.2,9.6 C313.5,7.6 315.5,4.4 317.2,4.4 C318.8,4.4 320.5,7.3 322.6,8" fill="none" stroke="#2a9a2a" stroke-width="1.2"/>
<rect x="333" y="0" width="1" height="17" fill="#a0a0a0" shape-rendering="crispEdges"/>
<rect x="334" y="0" width="1" height="17" fill="#fafafa" shape-rendering="crispEdges"/>
<path d="M351.8,9.2 L357,13.8" stroke="#a87408" stroke-width="3.8" stroke-linecap="butt"/>
<path d="M352,9.4 L356.7,13.6" stroke="#f4d62a" stroke-width="2.2" stroke-linecap="butt"/>
<circle cx="347.9" cy="5" r="5.5" fill="#d9f0fc" stroke="#2a6cc4" stroke-width="1.1"/>
<path d="M344.5,5 H351.4" stroke="#4a8ab4" stroke-width="1.7"/>
<path d="M347.9,1.7 V8.3" stroke="#4a8ab4" stroke-width="1.7"/>
<path d="M379.90000000000003,9.2 L385.1,13.8" stroke="#a87408" stroke-width="3.8" stroke-linecap="butt"/>
<path d="M380.1,9.4 L384.8,13.6" stroke="#f4d62a" stroke-width="2.2" stroke-linecap="butt"/>
<circle cx="376.0" cy="5" r="5.5" fill="#d9f0fc" stroke="#2a6cc4" stroke-width="1.1"/>
<path d="M372.6,5 H379.5" stroke="#4a8ab4" stroke-width="1.7"/>
<rect x="398" y="-2" width="8" height="8.9" rx="0.8" fill="#3fa50c"/><rect x="406" y="-2" width="8" height="8.9" rx="0.8" fill="#2352d4"/>
<rect x="398" y="6.9" width="8" height="8" rx="0.8" fill="#2b5cdc"/><rect x="406" y="6.9" width="8" height="8" rx="0.8" fill="#3fa50c"/>
<path d="M399.2,2 H404.9 V5.9 H399.2 Z M407.2,2 H412.9 V5.9 H407.2 Z M399.2,10 H404.9 V13.9 H399.2 Z M407.2,10 H412.9 V13.9 H407.2 Z" fill="#ffffff"/>
<path d="M400.2,3.5 H403.9 M408.2,11.5 H411.9" stroke="#a6d98a" stroke-width="0.8"/>
<path d="M408.2,3.5 H411.9 M400.2,11.5 H403.9" stroke="#9db8f0" stroke-width="0.8"/>
<rect x="399.2" y="8" width="1" height="1" fill="#dfe8ff"/><rect x="407.2" y="8" width="1" height="1" fill="#e4f5d8"/>
<rect x="423" y="0" width="1" height="17" fill="#a0a0a0" shape-rendering="crispEdges"/>
<rect x="424" y="0" width="1" height="17" fill="#fafafa" shape-rendering="crispEdges"/>
<rect x="428" y="0" width="1" height="17" fill="#a0a0a0" shape-rendering="crispEdges"/>
<rect x="429" y="0" width="24" height="17" fill="#f8f8f8"/>
<path d="M436.5,2 V14.8 M434,12.5 H446.5" fill="none" stroke="#5a5a5a" stroke-width="1.25"/>
<path d="M436.5,0.7 L438.2,3 H434.8 Z M448.1,12.5 L445.9,10.8 V14.2 Z" fill="#5a5a5a"/>
<path d="M441.6,3.8 L444.6,6.4 L441.6,9 Z" fill="#86e286" stroke="#12a012" stroke-width="1.1" stroke-linejoin="round"/>
<rect x="456" y="0" width="1" height="17" fill="#a0a0a0" shape-rendering="crispEdges"/>
<rect x="457" y="0" width="1" height="17" fill="#fafafa" shape-rendering="crispEdges"/>
<rect x="457" y="0" width="25" height="17" fill="#f8f8f8"/>
<path d="M464.5,2 V14.8 M462,12.5 H474.5" fill="none" stroke="#5a5a5a" stroke-width="1.25"/>
<path d="M464.5,0.7 L466.2,3 H462.8 Z M476.1,12.5 L473.9,10.8 V14.2 Z" fill="#5a5a5a"/>
<path d="M470.5,1.2 V10.8" stroke="#1f6ea8" stroke-width="1.3"/>
<path d="M476,6.4 H473" fill="none" stroke="#e04a00" stroke-width="1.2"/>
<path d="M471.5,6.4 L474.2,4.2 L473.6,6.4 L474.2,8.6 Z" fill="#e04a00"/>
<rect x="485" y="0" width="1" height="17" fill="#a0a0a0" shape-rendering="crispEdges"/>
<rect x="486" y="0" width="1" height="17" fill="#fafafa" shape-rendering="crispEdges"/>
<path d="M495.6,-3 H503.3 L506.8,3 V12.3 H496.8 Q495.6,12.3 495.6,11.1 Z" fill="#fff" stroke="#7a7a7a" stroke-width="1"/>
<path d="M503.3,-3 V3 H506.8" fill="none" stroke="#6a6a6a" stroke-width="1"/>
<path d="M498.4,2.3 V9.6 M498.4,2.6 H500.4 M498.4,5.7 H500" fill="none" stroke="#4a4636" stroke-width="1"/>
<path d="M503.5,5.4 H506.8 V9.7 H510.7 V12.7 H506.8 V16.4 H503.5 V12.7 H499.4 V9.7 H503.5 Z" fill="url(#gp)" stroke="#008c00" stroke-width="0.9"/>
<polygon points="516.8,5.8 522.4,5.8 519.6,9" fill="#000"/>
<linearGradient id="gk" x1="0" y1="0" x2="0.6" y2="1"><stop offset="0" stop-color="#3aa0f4"/><stop offset="1" stop-color="#0a50b8"/></linearGradient>
<circle cx="541" cy="6.6" r="6.9" fill="#f6f8fb" stroke="url(#gk)" stroke-width="2.3"/>
<circle cx="541" cy="6.6" r="4.6" fill="none" stroke="#9a9a9a" stroke-width="0.9" stroke-dasharray="0.7 1.71"/>
<path d="M540.8,3.4 V7 H543.8" fill="none" stroke="#222" stroke-width="1.3"/>
<polygon points="555.8,5.8 561.4,5.8 558.6,9" fill="#000"/>
<rect x="572.1" y="-2" width="15.8" height="15.8" rx="0.8" fill="#2c72ba"/>
<rect x="573" y="1.1" width="6" height="0.9" fill="#9ccbf2"/>
<rect x="573" y="3" width="14" height="5" fill="#fff"/><rect x="573" y="9" width="14" height="3.8" fill="#fff"/>
<path d="M574.1,6.5 H576.6 L577.9,5.3 L579.9,4.3 L581.9,5.5 H583.9 L585.3,4.5" fill="none" stroke="#8c1e00" stroke-width="1.1"/>
<path d="M575.1,11.5 L577.8,10.4 L579.9,11.5 L582.9,9.4 L585.6,11.5" fill="none" stroke="#1a8c1a" stroke-width="1.1"/>
<polygon points="594.8,5.8 600.4,5.8 597.6,9" fill="#000"/>
<rect x="606" y="0" width="1" height="19" fill="#a0a0a0" shape-rendering="crispEdges"/>
<rect x="607" y="0" width="1" height="19" fill="#fafafa" shape-rendering="crispEdges"/>
<rect x="610" y="1" width="3" height="1" fill="#b0b0b0" shape-rendering="crispEdges"/>
<rect x="610" y="3" width="3" height="1" fill="#b0b0b0" shape-rendering="crispEdges"/>
<rect x="610" y="5" width="3" height="1" fill="#b0b0b0" shape-rendering="crispEdges"/>
<rect x="610" y="7" width="3" height="1" fill="#b0b0b0" shape-rendering="crispEdges"/>
<rect x="610" y="9" width="3" height="1" fill="#b0b0b0" shape-rendering="crispEdges"/>
<rect x="610" y="11" width="3" height="1" fill="#b0b0b0" shape-rendering="crispEdges"/>
<rect x="610" y="13" width="3" height="1" fill="#b0b0b0" shape-rendering="crispEdges"/>
<rect x="610" y="15" width="3" height="1" fill="#b0b0b0" shape-rendering="crispEdges"/>
<rect x="616" y="0" width="1" height="17" fill="#a0a0a0" shape-rendering="crispEdges"/>
<rect x="617" y="0" width="24" height="17" fill="#f8f8f8"/>
<path d="M624,-1 V10.5 L626.7,8.2 L629,13.5 L630.8,12.7 L628.5,7.6 L632.3,7.4 Z" fill="#505050"/>
<path d="M656.5,0 V15 M649,7.5 H664" stroke="#5a5a5a" stroke-width="1.1"/>
<rect x="656" y="7" width="1" height="1" fill="#f0f0f0"/>
<rect x="673" y="0" width="1" height="17" fill="#a0a0a0" shape-rendering="crispEdges"/>
<rect x="674" y="0" width="1" height="17" fill="#fafafa" shape-rendering="crispEdges"/>
<path d="M690.5,1.5 V13.5" stroke="#5a5a5a" stroke-width="1.2"/>
<path d="M713,7.5 H725" stroke="#5a5a5a" stroke-width="1.2"/>
<path d="M741,14 L753,2" stroke="#5a5a5a" stroke-width="1.2"/>
<path d="M766.8,8.7 L774.9,1.2 M767.9,13 L780.1,2.3 M772,13.9 L781.3,5.5" fill="none" stroke="#5a5a5a" stroke-width="1.1"/>
<path d="M769.2,8 L770,12.6 M771.6,5.6 L772.6,10.8 M774.2,3.6 L775.2,8.6 M777.4,0.5 L778.4,6 M770,10 L773,8.4 M773.4,7.6 L776.2,6" fill="none" stroke="#5a5a5a" stroke-width="0.9"/>
<text x="778" y="15.6" class="n" font-size="6.6" font-weight="bold" fill="#3c3c3c">E</text>
<rect x="796" y="0" width="1" height="1" fill="#505050" shape-rendering="crispEdges"/>
<rect x="798" y="0" width="1" height="1" fill="#505050" shape-rendering="crispEdges"/>
<rect x="800" y="0" width="1" height="1" fill="#505050" shape-rendering="crispEdges"/>
<rect x="802" y="0" width="1" height="1" fill="#505050" shape-rendering="crispEdges"/>
<rect x="804" y="0" width="1" height="1" fill="#505050" shape-rendering="crispEdges"/>
<rect x="806" y="0" width="1" height="1" fill="#505050" shape-rendering="crispEdges"/>
<rect x="808" y="0" width="1" height="1" fill="#505050" shape-rendering="crispEdges"/>
<rect x="796" y="3" width="1" height="1" fill="#505050" shape-rendering="crispEdges"/>
<rect x="798" y="3" width="1" height="1" fill="#505050" shape-rendering="crispEdges"/>
<rect x="800" y="3" width="1" height="1" fill="#505050" shape-rendering="crispEdges"/>
<rect x="802" y="3" width="1" height="1" fill="#505050" shape-rendering="crispEdges"/>
<rect x="804" y="3" width="1" height="1" fill="#505050" shape-rendering="crispEdges"/>
<rect x="806" y="3" width="1" height="1" fill="#505050" shape-rendering="crispEdges"/>
<rect x="808" y="3" width="1" height="1" fill="#505050" shape-rendering="crispEdges"/>
<rect x="796" y="7" width="1" height="1" fill="#505050" shape-rendering="crispEdges"/>
<rect x="798" y="7" width="1" height="1" fill="#505050" shape-rendering="crispEdges"/>
<rect x="800" y="7" width="1" height="1" fill="#505050" shape-rendering="crispEdges"/>
<rect x="802" y="7" width="1" height="1" fill="#505050" shape-rendering="crispEdges"/>
<rect x="804" y="7" width="1" height="1" fill="#505050" shape-rendering="crispEdges"/>
<rect x="806" y="7" width="1" height="1" fill="#505050" shape-rendering="crispEdges"/>
<rect x="808" y="7" width="1" height="1" fill="#505050" shape-rendering="crispEdges"/>
<rect x="796" y="11" width="1" height="1" fill="#505050" shape-rendering="crispEdges"/>
<rect x="798" y="11" width="1" height="1" fill="#505050" shape-rendering="crispEdges"/>
<rect x="800" y="11" width="1" height="1" fill="#505050" shape-rendering="crispEdges"/>
<rect x="802" y="11" width="1" height="1" fill="#505050" shape-rendering="crispEdges"/>
<rect x="804" y="11" width="1" height="1" fill="#505050" shape-rendering="crispEdges"/>
<text x="805.8" y="15.6" class="n" font-size="6.6" font-weight="bold" fill="#3c3c3c">F</text>
<text x="826.5" y="11.9" font-size="12.5" textLength="7.7" lengthAdjust="spacingAndGlyphs" fill="#555" style="stroke:#555;stroke-width:.45px">A</text>
<rect x="853" y="1" width="1" height="1" fill="#555" shape-rendering="crispEdges"/>
<rect x="853" y="13" width="1" height="1" fill="#555" shape-rendering="crispEdges"/>
<rect x="855" y="1" width="1" height="1" fill="#555" shape-rendering="crispEdges"/>
<rect x="855" y="13" width="1" height="1" fill="#555" shape-rendering="crispEdges"/>
<rect x="857" y="1" width="1" height="1" fill="#555" shape-rendering="crispEdges"/>
<rect x="857" y="13" width="1" height="1" fill="#555" shape-rendering="crispEdges"/>
<rect x="859" y="1" width="1" height="1" fill="#555" shape-rendering="crispEdges"/>
<rect x="859" y="13" width="1" height="1" fill="#555" shape-rendering="crispEdges"/>
<rect x="861" y="1" width="1" height="1" fill="#555" shape-rendering="crispEdges"/>
<rect x="861" y="13" width="1" height="1" fill="#555" shape-rendering="crispEdges"/>
<rect x="863" y="1" width="1" height="1" fill="#555" shape-rendering="crispEdges"/>
<rect x="863" y="13" width="1" height="1" fill="#555" shape-rendering="crispEdges"/>
<rect x="864.4" y="1" width="1" height="1" fill="#555" shape-rendering="crispEdges"/>
<rect x="864.4" y="13" width="1" height="1" fill="#555" shape-rendering="crispEdges"/>
<rect x="853" y="3" width="1" height="1" fill="#555"/>
<rect x="864.4" y="3" width="1" height="1" fill="#555"/>
<rect x="853" y="5" width="1" height="1" fill="#555"/>
<rect x="864.4" y="5" width="1" height="1" fill="#555"/>
<rect x="853" y="7" width="1" height="1" fill="#555"/>
<rect x="864.4" y="7" width="1" height="1" fill="#555"/>
<rect x="853" y="9" width="1" height="1" fill="#555"/>
<rect x="864.4" y="9" width="1" height="1" fill="#555"/>
<rect x="853" y="11" width="1" height="1" fill="#555"/>
<rect x="864.4" y="11" width="1" height="1" fill="#555"/>
<text x="854.8" y="11.9" font-size="11.3" textLength="8.4" lengthAdjust="spacingAndGlyphs" fill="#555" style="stroke:#555;stroke-width:.4px">T</text>
<path d="M883.4,0.9 L886.8,4.6 L883.4,5.6 L880,4.6 Z M890.6,13.9 L894,10.4 L890.6,9.2 L887.2,10.4 Z" fill="#5a5a5a"/>
<path d="M882.4,8.7 L884.5,10.5 L888.8,5.2" fill="none" stroke="#5a5a5a" stroke-width="1.3"/>
<polygon points="900.8,5.8 906.4,5.8 903.6,9" fill="#000"/>
<rect x="912" y="0" width="1" height="19" fill="#a0a0a0" shape-rendering="crispEdges"/>
<rect x="913" y="0" width="1" height="19" fill="#fafafa" shape-rendering="crispEdges"/>
<rect x="916" y="1" width="3" height="1" fill="#b0b0b0" shape-rendering="crispEdges"/>
<rect x="916" y="3" width="3" height="1" fill="#b0b0b0" shape-rendering="crispEdges"/>
<rect x="916" y="5" width="3" height="1" fill="#b0b0b0" shape-rendering="crispEdges"/>
<rect x="916" y="7" width="3" height="1" fill="#b0b0b0" shape-rendering="crispEdges"/>
<rect x="916" y="9" width="3" height="1" fill="#b0b0b0" shape-rendering="crispEdges"/>
<rect x="916" y="11" width="3" height="1" fill="#b0b0b0" shape-rendering="crispEdges"/>
<rect x="916" y="13" width="3" height="1" fill="#b0b0b0" shape-rendering="crispEdges"/>
<rect x="916" y="15" width="3" height="1" fill="#b0b0b0" shape-rendering="crispEdges"/>
<rect x="1062" y="0" width="1" height="17" fill="#a0a0a0" shape-rendering="crispEdges"/>
<rect x="1063" y="0" width="24" height="17" fill="#f8f8f8"/>
<text x="927.8" y="10.7" fill="#4a4a4a" style="stroke:#4a4a4a;stroke-width:.2px" textLength="12.2" lengthAdjust="spacingAndGlyphs">M1</text>
<text x="955.6" y="10.7" fill="#4a4a4a" style="stroke:#4a4a4a;stroke-width:.2px" textLength="12.6" lengthAdjust="spacingAndGlyphs">M5</text>
<text x="981.7" y="10.7" fill="#4a4a4a" style="stroke:#4a4a4a;stroke-width:.2px" textLength="17.6" lengthAdjust="spacingAndGlyphs">M15</text>
<text x="1009.8" y="10.7" fill="#4a4a4a" style="stroke:#4a4a4a;stroke-width:.2px" textLength="17.6" lengthAdjust="spacingAndGlyphs">M30</text>
<text x="1040.4" y="10.7" fill="#4a4a4a" style="stroke:#4a4a4a;stroke-width:.2px" textLength="12.1" lengthAdjust="spacingAndGlyphs">H1</text>
<text x="1067.8" y="10.7" fill="#4a4a4a" style="stroke:#4a4a4a;stroke-width:.2px" textLength="12.2" lengthAdjust="spacingAndGlyphs">H4</text>
<text x="1096.6" y="10.7" fill="#4a4a4a" style="stroke:#4a4a4a;stroke-width:.2px" textLength="11.6" lengthAdjust="spacingAndGlyphs">D1</text>
<text x="1124.3" y="10.7" fill="#4a4a4a" style="stroke:#4a4a4a;stroke-width:.2px" textLength="14.1" lengthAdjust="spacingAndGlyphs">W1</text>
<text x="1150.6" y="10.7" fill="#4a4a4a" style="stroke:#4a4a4a;stroke-width:.2px" textLength="14.7" lengthAdjust="spacingAndGlyphs">MN</text>
<rect x="1173" y="0" width="1" height="19" fill="#a0a0a0" shape-rendering="crispEdges"/>
<rect x="1174" y="0" width="1" height="19" fill="#fafafa" shape-rendering="crispEdges"/>
<path d="M1640.6,7.4 L1635.9,11.8" stroke="#2452cc" stroke-width="2.5" stroke-linecap="round"/>
<circle cx="1643.5" cy="4.4" r="4.1" fill="#f1f1f8" stroke="#2a5cd8" stroke-width="1.25"/>
<path d="M1660.3,8.6 C1660.3,5.4 1663,4 1666,4 H1672 V13.2 H1666.2 L1663.5,15.6 L1663.6,13 C1661.6,12.6 1660.3,10.8 1660.3,8.6 Z" fill="#e0e0ea" stroke="#a4a4a8" stroke-width="0.9"/>
<circle cx="1674.5" cy="4.2" r="8.3" fill="url(#gr)"/>
<text x="1669.9" y="9.1" class="n" font-size="14" font-weight="bold" fill="#fff" font-family="'Liberation Serif',serif">1</text>
</g>
</svg>
</body></html>
